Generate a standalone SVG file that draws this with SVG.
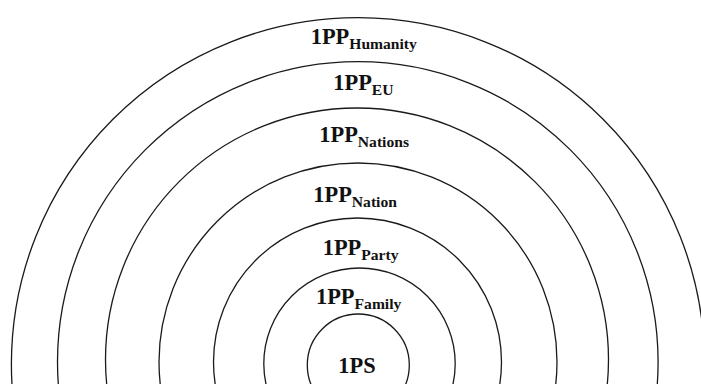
<svg xmlns="http://www.w3.org/2000/svg" width="701" height="384" viewBox="0 0 701 384">
<style>
.ring{fill:none;stroke:#1a1a1a;stroke-width:1.3}
.lbl{font-family:"Liberation Serif","Times New Roman",serif;font-weight:bold;font-size:22.4px;fill:#111}
.sub{font-size:15.6px}
</style>
<rect width="701" height="384" fill="#fff"/>
<g id="humanity">
<circle class="ring" cx="358" cy="364.3" r="346.6"/>
<text class="lbl" x="310.7" y="43.5">1PP<tspan class="sub" dy="5">Humanity</tspan></text>
</g>
<g id="eu">
<circle class="ring" cx="357.8" cy="362" r="300.3"/>
<text class="lbl" x="333.3" y="90">1PP<tspan class="sub" dy="5">EU</tspan></text>
</g>
<g id="nations">
<circle class="ring" cx="357" cy="359.5" r="251.5"/>
<text class="lbl" x="319.3" y="141.7">1PP<tspan class="sub" dy="5">Nations</tspan></text>
</g>
<g id="nation">
<circle class="ring" cx="358" cy="362" r="199"/>
<text class="lbl" x="313.3" y="201.5">1PP<tspan class="sub" dy="5">Nation</tspan></text>
</g>
<g id="party">
<circle class="ring" cx="357.5" cy="362" r="144"/>
<text class="lbl" x="322.7" y="255">1PP<tspan class="sub" dy="5">Party</tspan></text>
</g>
<g id="family">
<circle class="ring" cx="359.5" cy="363.7" r="95.7"/>
<text class="lbl" x="316" y="304">1PP<tspan class="sub" dy="5">Family</tspan></text>
</g>
<g id="ps">
<circle class="ring" cx="358.3" cy="365" r="51"/>
<text class="lbl" x="338.3" y="372.7">1PS</text>
</g>
</svg>
